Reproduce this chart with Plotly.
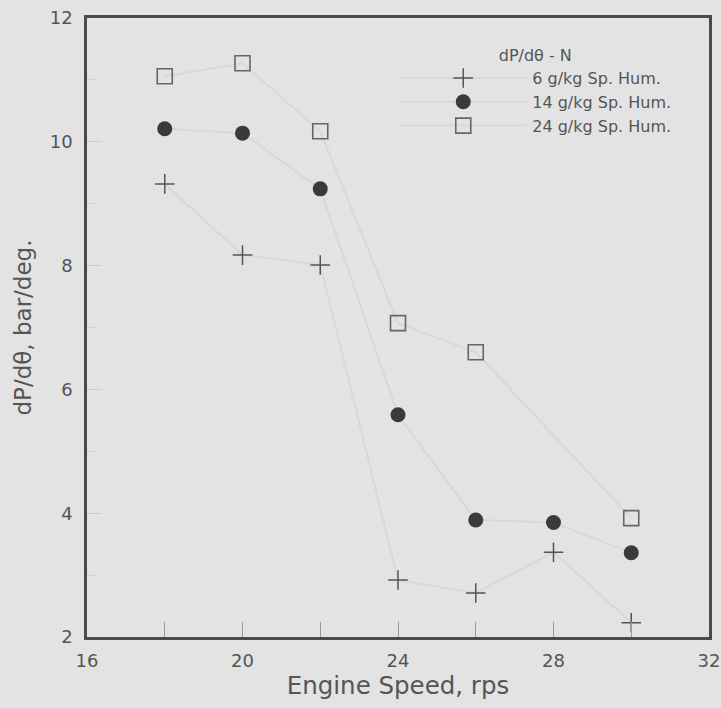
import plotly.graph_objects as go

speed = [18, 20, 22, 24, 26, 28, 30]
hum6 = [9.32, 8.17, 8.01, 2.92, 2.71, 3.37, 2.23]
hum14 = [10.21, 10.14, 9.24, 5.59, 3.89, 3.85, 3.36]
speed24 = [18, 20, 22, 24, 26, 30]
hum24 = [11.06, 11.27, 10.17, 7.07, 6.60, 3.92]

names = ["6 g/kg Sp. Hum.", "14 g/kg Sp. Hum.", "24 g/kg Sp. Hum."]
xticks = [16, 20, 24, 28, 32]
yticks = [2, 4, 6, 8, 10, 12]

FONT = "DejaVu Sans"
TXT = "#555555"
BG = "#e3e3e3"
LINE = "#d8d8d8"

fig = go.Figure()
fig.add_trace(go.Scatter(
    x=speed, y=hum6, name=names[0], mode="lines+markers",
    line=dict(color=LINE, width=2),
    marker=dict(symbol="cross-thin", size=14, line=dict(color="#555555", width=1.5)),
))
fig.add_trace(go.Scatter(
    x=speed, y=hum14, name=names[1], mode="lines+markers",
    line=dict(color=LINE, width=2),
    marker=dict(symbol="circle", size=15, color="#3a3a3a", line=dict(width=0)),
))
fig.add_trace(go.Scatter(
    x=speed24, y=hum24, name=names[2], mode="lines+markers",
    line=dict(color=LINE, width=2),
    marker=dict(symbol="square-open", size=15, color="#666666", line=dict(color="#666666", width=1.6)),
))

fig.update_layout(
    width=721, height=708,
    margin=dict(l=87, r=12, t=18, b=71),
    paper_bgcolor=BG, plot_bgcolor=BG,
    font=dict(family=FONT, color=TXT, size=18),
    showlegend=True,
    legend=dict(
        x=0.494, y=0.964, xanchor="left", yanchor="top",
        bgcolor="rgba(0,0,0,0)",
        font=dict(size=16, color=TXT, family=FONT),
        itemwidth=128,
        title=dict(text="dP/d\u03b8 - N", side="top center", font=dict(size=16, color=TXT)),
        tracegroupgap=0,
    ),
)

fig.update_xaxes(
    range=[16, 32], tickvals=xticks, ticktext=[str(v) for v in xticks],
    automargin=False,
    showgrid=False, zeroline=False,
    showline=True, linecolor="#4a4a4a", linewidth=2.5, mirror=True,
    ticks="inside", ticklen=15, tickwidth=1.2, tickcolor="#9a9a9a",
    minor=dict(dtick=2, tick0=16, ticks="inside", ticklen=15, tickwidth=1.2, tickcolor="#9a9a9a", showgrid=False),
    tickfont=dict(size=18, color=TXT),
    ticklabelstandoff=6,
    title=dict(text="Engine Speed, rps", font=dict(size=24.5, color=TXT), standoff=4),
)
fig.update_yaxes(
    range=[2, 12], tickvals=yticks, ticktext=[str(v) for v in yticks],
    automargin=False,
    showgrid=False, zeroline=False,
    showline=True, linecolor="#4a4a4a", linewidth=2.5, mirror=True,
    ticks="inside", ticklen=15, tickwidth=1.2, tickcolor="#cccccc",
    minor=dict(dtick=1, tick0=2, ticks="inside", ticklen=10, tickwidth=1, tickcolor="#d2d2d2", showgrid=False),
    tickfont=dict(size=18, color=TXT),
    ticklabelstandoff=8,
    title=dict(text="dP/d\u03b8, bar/deg.", font=dict(size=23, color=TXT), standoff=12),
)

fig.write_html("out.html", config={"displayModeBar": False},
               post_script="document.body.style.margin='0';")
